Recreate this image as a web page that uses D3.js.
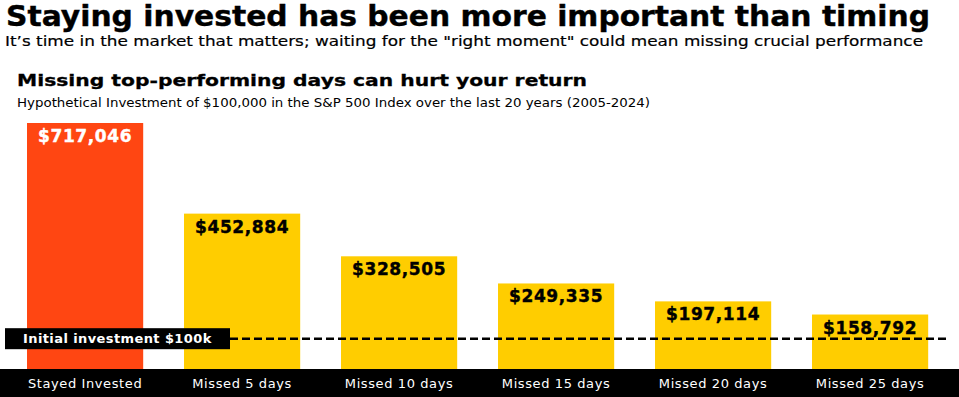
<!DOCTYPE html>
<html>
<head>
<meta charset="utf-8">
<script src="https://cdn.jsdelivr.net/npm/d3@7"></script>
<style>
  body { margin: 0; background: #fff; }
  text { font-family: "DejaVu Sans", sans-serif; }
</style>
</head>
<body>
<div id="chart"></div>
<script>
// Data
var categories = ["Stayed Invested", "Missed 5 days", "Missed 10 days", "Missed 15 days", "Missed 20 days", "Missed 25 days"];
var values = [717046, 452884, 328505, 249335, 197114, 158792];
var initialInvestment = 100000;
var initialLabel = "Initial investment $100k";

var svgWidth = 959;
var svgHeight = 397;

var margin = { top: 123, bottom: 28 };
var plotBottom = svgHeight - margin.bottom;

var svg = d3.select("#chart")
  .append("svg")
  .attr("width", svgWidth)
  .attr("height", svgHeight);

// Titles (a thin stroke makes DejaVu look closer to the heavy original face)
svg.append("text")
  .attr("x", 6).attr("y", 26)
  .attr("font-size", 27.5).attr("font-weight", 900)
  .attr("stroke", "#000").attr("stroke-width", 0.4)
  .attr("textLength", 924).attr("lengthAdjust", "spacingAndGlyphs")
  .text("Staying invested has been more important than timing");

svg.append("text")
  .attr("x", 5).attr("y", 46)
  .attr("font-size", 14.5)
  .attr("stroke", "#000").attr("stroke-width", 0.2)
  .attr("textLength", 918).attr("lengthAdjust", "spacingAndGlyphs")
  .text("It\u2019s time in the market that matters; waiting for the \"right moment\" could mean missing crucial performance");

svg.append("text")
  .attr("x", 17).attr("y", 86)
  .attr("font-size", 16.5).attr("font-weight", "bold")
  .attr("stroke", "#000").attr("stroke-width", 0.3)
  .attr("textLength", 570).attr("lengthAdjust", "spacingAndGlyphs")
  .text("Missing top-performing days can hurt your return");

svg.append("text")
  .attr("x", 17).attr("y", 107)
  .attr("font-size", 11.5)
  .attr("textLength", 633).attr("lengthAdjust", "spacingAndGlyphs")
  .text("Hypothetical Investment of $100,000 in the S&P 500 Index over the last 20 years (2005-2024)");

// Scales
var xBandScale = d3.scaleBand()
  .domain(categories)
  .range([6.6, 948.6])
  .paddingInner(0.26)
  .paddingOuter(0.13);

var yLinearScale = d3.scaleLinear()
  .domain([0, d3.max(values)])
  .range([plotBottom, margin.top]);

var data = categories.map(function(c, i) { return { cat: c, value: values[i], i: i }; });

// Bars
svg.selectAll("rect.bar")
  .data(data)
  .enter()
  .append("rect")
  .attr("class", "bar")
  .attr("x", d => xBandScale(d.cat))
  .attr("y", d => yLinearScale(d.value))
  .attr("width", xBandScale.bandwidth())
  .attr("height", d => plotBottom - yLinearScale(d.value))
  .attr("fill", d => d.i === 0 ? "#ff4612" : "#ffcd00");

// Value labels
svg.selectAll("text.value")
  .data(data)
  .enter()
  .append("text")
  .attr("class", "value")
  .attr("x", d => xBandScale(d.cat) + xBandScale.bandwidth() / 2)
  .attr("y", d => yLinearScale(d.value) + 19)
  .attr("text-anchor", "middle")
  .attr("font-size", 17)
  .attr("font-weight", "bold")
  .attr("letter-spacing", 0.6)
  .attr("fill", d => d.i === 0 ? "#fff" : "#000")
  .attr("stroke", d => d.i === 0 ? "#fff" : "#000")
  .attr("stroke-width", 0.4)
  .text(d => d3.format("$,")(d.value));

// Bottom band with category labels
svg.append("rect")
  .attr("x", 0).attr("y", plotBottom)
  .attr("width", svgWidth).attr("height", svgHeight - plotBottom)
  .attr("fill", "#000");

svg.selectAll("text.cat")
  .data(categories)
  .enter()
  .append("text")
  .attr("class", "cat")
  .attr("x", d => xBandScale(d) + xBandScale.bandwidth() / 2)
  .attr("y", 388)
  .attr("text-anchor", "middle")
  .attr("font-size", 13)
  .attr("letter-spacing", 0.6)
  .attr("fill", "#fff")
  .text(d => d);

// Initial investment line; the original draws it a few px under the $100k level
var lineY = yLinearScale(initialInvestment) + 4;

svg.append("line")
  .attr("x1", 230).attr("x2", 947)
  .attr("y1", lineY).attr("y2", lineY)
  .attr("stroke", "#000")
  .attr("stroke-width", 2.5)
  .attr("stroke-dasharray", "8,4");

svg.append("rect")
  .attr("x", 5).attr("y", lineY - 10.5)
  .attr("width", 225).attr("height", 21)
  .attr("fill", "#000");

svg.append("text")
  .attr("x", 23).attr("y", lineY + 4.5)
  .attr("font-size", 13)
  .attr("font-weight", "bold")
  .attr("letter-spacing", 0.4)
  .attr("fill", "#fff")
  .text(initialLabel);
</script>
</body>
</html>
